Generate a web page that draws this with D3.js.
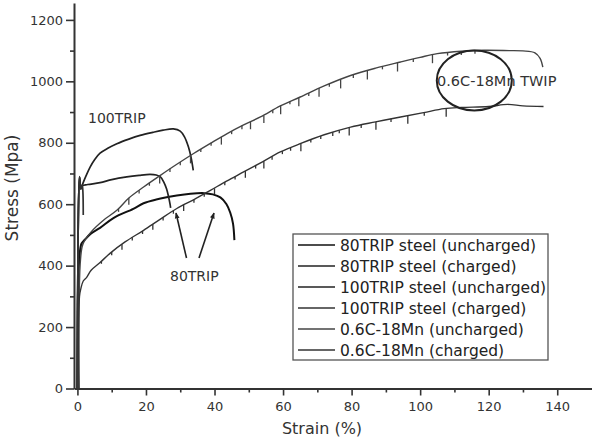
<!DOCTYPE html>
<html>
<head>
<meta charset="utf-8">
<script src="https://cdn.jsdelivr.net/npm/d3@7"></script>
<style>
  body { margin: 0; background: #fff; }
  svg { display: block; font-family: "DejaVu Sans", sans-serif; }
</style>
</head>
<body>
<svg id="chart" width="595" height="437"></svg>
<script>
// legend labels, in legend order
const seriesNames = ['80TRIP steel (uncharged)', '80TRIP steel (charged)', '100TRIP steel (uncharged)',
  '100TRIP steel (charged)', '0.6C-18Mn (uncharged)', '0.6C-18Mn (charged)'];

// [strain %, stress MPa]
const trip80Uncharged = [[0, 0], [0.2, 330], [0.6, 430], [1.2, 472], [2.2, 485], [4, 505], [6.6, 523], [10.5, 555],
  [16.3, 585], [19.3, 603], [23, 615], [29, 628], [33, 634], [37, 636], [39.5, 632], [41.7, 622], [43.5, 600],
  [44.6, 572], [45.4, 537], [45.8, 483]];
const trip80Charged = [[0, 0], [0.2, 500], [0.6, 688], [1.0, 650], [1.4, 660], [3, 664], [6.6, 670], [10, 680],
  [14.4, 689], [18, 694], [21.2, 697], [23, 695], [24.2, 689], [25.2, 672], [26, 650], [26.6, 624], [27, 602], [27.2, 588]];
const trip100Uncharged = [[0, 0], [0.2, 500], [0.6, 688], [1.0, 650], [1.4, 662], [2.5, 692], [3.7, 721], [5, 745],
  [6.6, 766], [9, 783], [11.5, 797], [15, 812], [18.3, 824], [22, 834], [25, 841], [28, 845], [30, 838], [31.2, 820],
  [32.4, 786], [33.2, 750], [33.8, 710]];
const trip100Charged = [[0, 0], [0.2, 500], [0.6, 690], [1.0, 650], [1.4, 662], [1.6, 640], [1.7, 565]];
const twipUncharged = [[0.3, 0], [0.5, 300], [0.9, 420], [1.6, 470], [4, 510], [7.6, 548], [11.5, 580], [15, 620],
  [19.3, 656], [24.2, 694], [29, 730], [33.9, 765], [38.8, 798], [43.7, 830], [48.5, 858], [53.4, 884], [59.2, 920],
  [65, 949], [72, 985], [79.7, 1019], [87, 1043], [94.3, 1063], [100, 1078], [105, 1090], [112, 1098], [118.7, 1101],
  [126, 1100], [130, 1099], [133.5, 1093], [135, 1075], [135.8, 1046]];
const twipCharged = [[0.5, 0], [0.6, 300], [1, 325], [1.7, 350], [2.7, 362], [4, 385], [6.6, 410], [9.5, 440],
  [14, 478], [19.3, 515], [24, 550], [29, 586], [34, 615], [38.8, 645], [43.5, 675], [48.5, 705], [54, 738],
  [59.2, 770], [65, 797], [72, 826], [79.7, 851], [87, 868], [94.3, 884], [101, 898], [107, 911], [112, 915],
  [120, 918], [125.5, 925], [130, 920], [136, 918]];

// serration drops on the TWIP curves: [strain, stress, drop]
const serrUncharged = [[12, 585, 10], [15, 620, 22], [18, 645, 10], [21, 670, 10], [24, 692, 25], [27, 715, 10],
  [30, 737, 10], [33, 758, 25], [36, 780, 10], [39, 800, 10], [42, 819, 25], [45, 838, 10], [48, 856, 12],
  [50.5, 869, 25], [54.4, 889, 25], [57, 906, 10], [59.3, 921, 28], [62, 935, 10], [64.6, 947, 28], [67.5, 962, 10],
  [70.5, 978, 28], [73.5, 992, 10], [76.8, 1005, 28], [80.5, 1021, 10], [84.6, 1034, 28], [89, 1049, 10],
  [93.4, 1060, 28], [98, 1073, 10], [103.6, 1087, 28], [108, 1094, 10], [112, 1098, 12], [116, 1100, 10]];
const serrCharged = [[7, 414, 8], [10, 444, 10], [13, 470, 18], [16, 492, 10], [19, 513, 10], [22, 535, 18],
  [25, 557, 10], [28, 579, 10], [31, 598, 20], [34, 615, 10], [37, 634, 10], [40, 652, 20], [43, 672, 10],
  [46, 690, 10], [49, 708, 22], [52, 726, 10], [54.4, 740, 24], [56.8, 755, 10], [59.8, 773, 10], [62.2, 784, 10],
  [65.2, 798, 26], [68.1, 811, 10], [71, 822, 10], [74.5, 834, 12], [76.4, 841, 10], [79.3, 850, 26], [82.8, 858, 10],
  [87.1, 868, 26], [91.5, 878, 10], [96.4, 888, 26], [101.2, 898, 10], [107.6, 911, 26]];

const xTicks = [0, 20, 40, 60, 80, 100, 120, 140];
const yTicks = [0, 200, 400, 600, 800, 1000, 1200];

const svg = d3.select('#chart');

const x = d3.scaleLinear().domain([-1, 150]).range([74, 591.5]);
const y = d3.scaleLinear().domain([0, 1255]).range([388.5, 3]);

const series = [
  { name: seriesNames[0], data: trip80Uncharged, color: '#111', width: 2 },
  { name: seriesNames[1], data: trip80Charged, color: '#222', width: 1.7 },
  { name: seriesNames[2], data: trip100Uncharged, color: '#222', width: 1.7 },
  { name: seriesNames[3], data: trip100Charged, color: '#333', width: 1.7 },
  { name: seriesNames[4], data: twipUncharged, color: '#444', width: 1.4 },
  { name: seriesNames[5], data: twipCharged, color: '#333', width: 1.4 }
];

const line = d3.line()
  .x(d => x(d[0]))
  .y(d => y(d[1]))
  .curve(d3.curveCatmullRom.alpha(0.5));

// curves
svg.append('g').selectAll('path')
  .data(series)
  .enter()
  .append('path')
  .attr('d', d => line(d.data))
  .attr('fill', 'none')
  .attr('stroke', d => d.color)
  .attr('stroke-width', d => d.width)
  .attr('stroke-linejoin', 'round');

// serrations (load drops) on TWIP curves
[[serrUncharged, '#444'], [serrCharged, '#333']].forEach(([s, c]) => {
  svg.append('g').selectAll('line')
    .data(s)
    .enter()
    .append('line')
    .attr('x1', d => x(d[0]))
    .attr('x2', d => x(d[0]))
    .attr('y1', d => y(d[1]))
    .attr('y2', d => y(d[1] - d[2]))
    .attr('stroke', c)
    .attr('stroke-width', 1.3);
});

// axes
const axisColor = '#333';
function styleAxis(g) {
  g.select('.domain').attr('stroke', axisColor).attr('stroke-width', 2);
  g.selectAll('.tick line').attr('stroke', axisColor).attr('stroke-width', 1.6);
  g.selectAll('.tick text').attr('fill', '#333').style('font-size', '13px').style('font-family', '"DejaVu Sans", sans-serif');
}

svg.append('g')
  .attr('transform', 'translate(0,388.5)')
  .call(d3.axisBottom(x).tickValues(d3.range(10, 150, 20)).tickSize(4).tickFormat(''))
  .call(g => { styleAxis(g); g.select('.domain').remove(); });
svg.append('g')
  .attr('transform', 'translate(0,388.5)')
  .call(d3.axisBottom(x).tickValues(xTicks).tickSize(7).tickSizeOuter(0).tickPadding(6).tickFormat(d3.format('d')))
  .call(styleAxis);

svg.append('g')
  .attr('transform', 'translate(74,0)')
  .call(d3.axisLeft(y).tickValues(d3.range(100, 1300, 200)).tickSize(4).tickFormat(''))
  .call(g => { styleAxis(g); g.select('.domain').remove(); });
svg.append('g')
  .attr('transform', 'translate(74,0)')
  .call(d3.axisLeft(y).tickValues(yTicks).tickSize(8).tickSizeOuter(0).tickPadding(3).tickFormat(d3.format('d')))
  .call(styleAxis);

// axis titles
svg.append('text')
  .attr('x', 322).attr('y', 434)
  .attr('text-anchor', 'middle')
  .style('font-size', '16px').attr('fill', '#333')
  .text('Strain (%)');
svg.append('text')
  .attr('transform', 'translate(18,188) rotate(-90)')
  .attr('text-anchor', 'middle')
  .style('font-size', '17px').attr('fill', '#333')
  .text('Stress (Mpa)');

// annotations
svg.append('text').attr('x', 88).attr('y', 123).style('font-size', '14px').attr('fill', '#333').text('100TRIP');
svg.append('text').attr('x', 170).attr('y', 281).style('font-size', '14px').attr('fill', '#333').text('80TRIP');

svg.append('defs').append('marker')
  .attr('id', 'arrow')
  .attr('viewBox', '0 0 10 10')
  .attr('refX', 9).attr('refY', 5)
  .attr('markerWidth', 6).attr('markerHeight', 6)
  .attr('markerUnits', 'userSpaceOnUse')
  .attr('orient', 'auto')
  .append('path').attr('d', 'M0,1L10,5L0,9Z').attr('fill', '#222');

[[[186.5, 258], [176, 213]], [[199, 258], [214, 213]]].forEach(([a, b]) => {
  svg.append('line')
    .attr('x1', a[0]).attr('y1', a[1]).attr('x2', b[0]).attr('y2', b[1])
    .attr('stroke', '#222').attr('stroke-width', 1.6)
    .attr('marker-end', 'url(#arrow)');
});

svg.append('ellipse')
  .attr('cx', x(115.8)).attr('cy', y(1003))
  .attr('rx', 37.5).attr('ry', 30)
  .attr('fill', 'none').attr('stroke', '#222').attr('stroke-width', 2);
svg.append('text').attr('x', 437).attr('y', 86).style('font-size', '14.5px').attr('fill', '#333').text('0.6C-18Mn TWIP');

// legend
const legend = svg.append('g').attr('transform', 'translate(293,234)');
legend.append('rect')
  .attr('width', 255).attr('height', 126)
  .attr('fill', '#fff').attr('stroke', '#555').attr('stroke-width', 1.3);
const items = legend.selectAll('.item')
  .data(series)
  .enter()
  .append('g')
  .attr('class', 'item')
  .attr('transform', (d, i) => `translate(0,${11 + i * 21})`);
items.append('line')
  .attr('x1', 5).attr('x2', 42)
  .attr('stroke', d => d.color)
  .attr('stroke-width', d => Math.min(d.width, 1.6));
items.append('text')
  .attr('x', 47).attr('dy', '0.36em')
  .style('font-size', '15.5px').attr('fill', '#222')
  .text(d => d.name);
</script>
</body>
</html>
